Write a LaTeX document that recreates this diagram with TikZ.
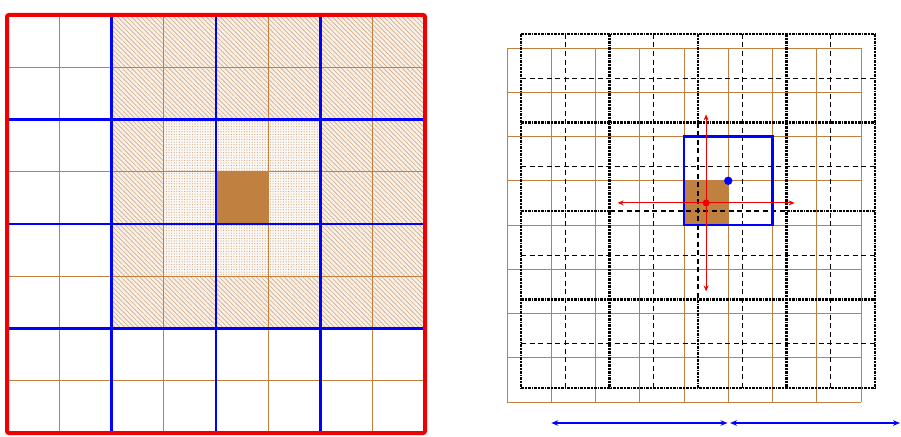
\documentclass[tikz,border=0pt]{standalone}
\usetikzlibrary{patterns.meta,arrows.meta}
\definecolor{brn}{RGB}{192,128,64}
\definecolor{bl}{RGB}{0,0,255}
\definecolor{rd}{RGB}{240,0,0}
\begin{document}
\begin{tikzpicture}[x=1pt,y=-1pt,
  gridline/.style={draw=brn, line width=0.8pt},
  coarse/.style={draw=bl, line width=2.6pt},
  hatchfill/.style={pattern={Lines[angle=-45,distance=3.3pt,line width=0.65pt]},pattern color=brn!65},
  dotfill/.style={pattern={Dots[distance=2.6pt,radius=0.55pt]},pattern color=brn!75},
  thickdot/.style={draw=black,line width=2.6pt,dash pattern=on 3pt off 1pt on 1.6pt off 1pt},
  thindash/.style={draw=black,line width=1.3pt,dash pattern=on 5pt off 3.5pt},
  redarrow/.style={draw=rd,line width=0.9pt,-{Stealth[length=6pt,width=5pt]}},
  bluearrow/.style={draw=bl,line width=1.4pt,{Stealth[length=7pt,width=5.5pt]}-{Stealth[length=7pt,width=5.5pt]}}
]
\useasboundingbox (0,0) rectangle (901,436);
% ---------------- left panel ----------------
\fill[brn!12] (111.5,15) rectangle (425,328.5);
\path[hatchfill] (111.5,15) rectangle (425,328.5);
\fill[brn!6] (163.75,119.5) rectangle (320.5,276.25);
\path[dotfill] (163.75,119.5) rectangle (320.5,276.25);
\fill[brn] (216,171.75) rectangle (268.25,224);
\foreach \i in {1,...,7}{
  \draw[gridline] ({7+52.25*\i},15) -- ({7+52.25*\i},433);
  \draw[gridline] (7,{15+52.25*\i}) -- (425,{15+52.25*\i});
}
\foreach \i in {2,4,6}{
  \draw[coarse] ({7+52.25*\i},15) -- ({7+52.25*\i},433);
  \draw[coarse] (7,{15+52.25*\i}) -- (425,{15+52.25*\i});
}
\draw[rd, line width=4pt, rounded corners=2pt] (7,15) rectangle (425,433);
% ---------------- right panel ----------------
\fill[brn] (684,180.75) rectangle (728.25,225);
\foreach \i in {0,...,8}{
  \draw[gridline] ({507+44.25*\i},48) -- ({507+44.25*\i},402);
  \draw[gridline] (507,{48+44.25*\i}) -- (861,{48+44.25*\i});
}
\foreach \i in {1,3,5,7}{
  \draw[thindash] ({521+44.25*\i},34) -- ({521+44.25*\i},388);
  \draw[thindash] (521,{34+44.25*\i}) -- (875,{34+44.25*\i});
}
\foreach \i in {0,2,6,8}{
  \draw[thickdot] ({521+44.25*\i},34) -- ({521+44.25*\i},388);
  \draw[thickdot] (521,{34+44.25*\i}) -- (875,{34+44.25*\i});
}
\draw[thickdot] (698,34) -- (698,122.5);
\draw[thindash] (698,122.5) -- (698,299.5);
\draw[thickdot] (698,299.5) -- (698,388);
\draw[thickdot] (521,211) -- (609.5,211);
\draw[thindash] (609.5,211) -- (786.5,211);
\draw[thickdot] (786.5,211) -- (875,211);
\draw[bl, line width=2.6pt] (684,136.5) rectangle (772.5,225);
\coordinate (c) at (706.1,202.9);
\coordinate (cl) at (617.6,202.9);
\coordinate (cr) at (794.6,202.9);
\coordinate (cu) at (706.1,114.4);
\coordinate (cd) at (706.1,291.4);
\draw[redarrow] (c) -- (cl);
\draw[redarrow] (c) -- (cr);
\draw[redarrow] (c) -- (cu);
\draw[redarrow] (c) -- (cd);
\fill[rd] (c) circle (3.5pt);
\coordinate (bd) at (728.25,180.75);
\fill[bl] (bd) circle (4.2pt);
\coordinate (a1) at (551.25,423);
\coordinate (a2) at (727.5,423);
\coordinate (a3) at (730,423);
\coordinate (a4) at (900,423);
\draw[bluearrow] (a1) -- (a2);
\draw[bluearrow] (a3) -- (a4);
\end{tikzpicture}
\end{document}
